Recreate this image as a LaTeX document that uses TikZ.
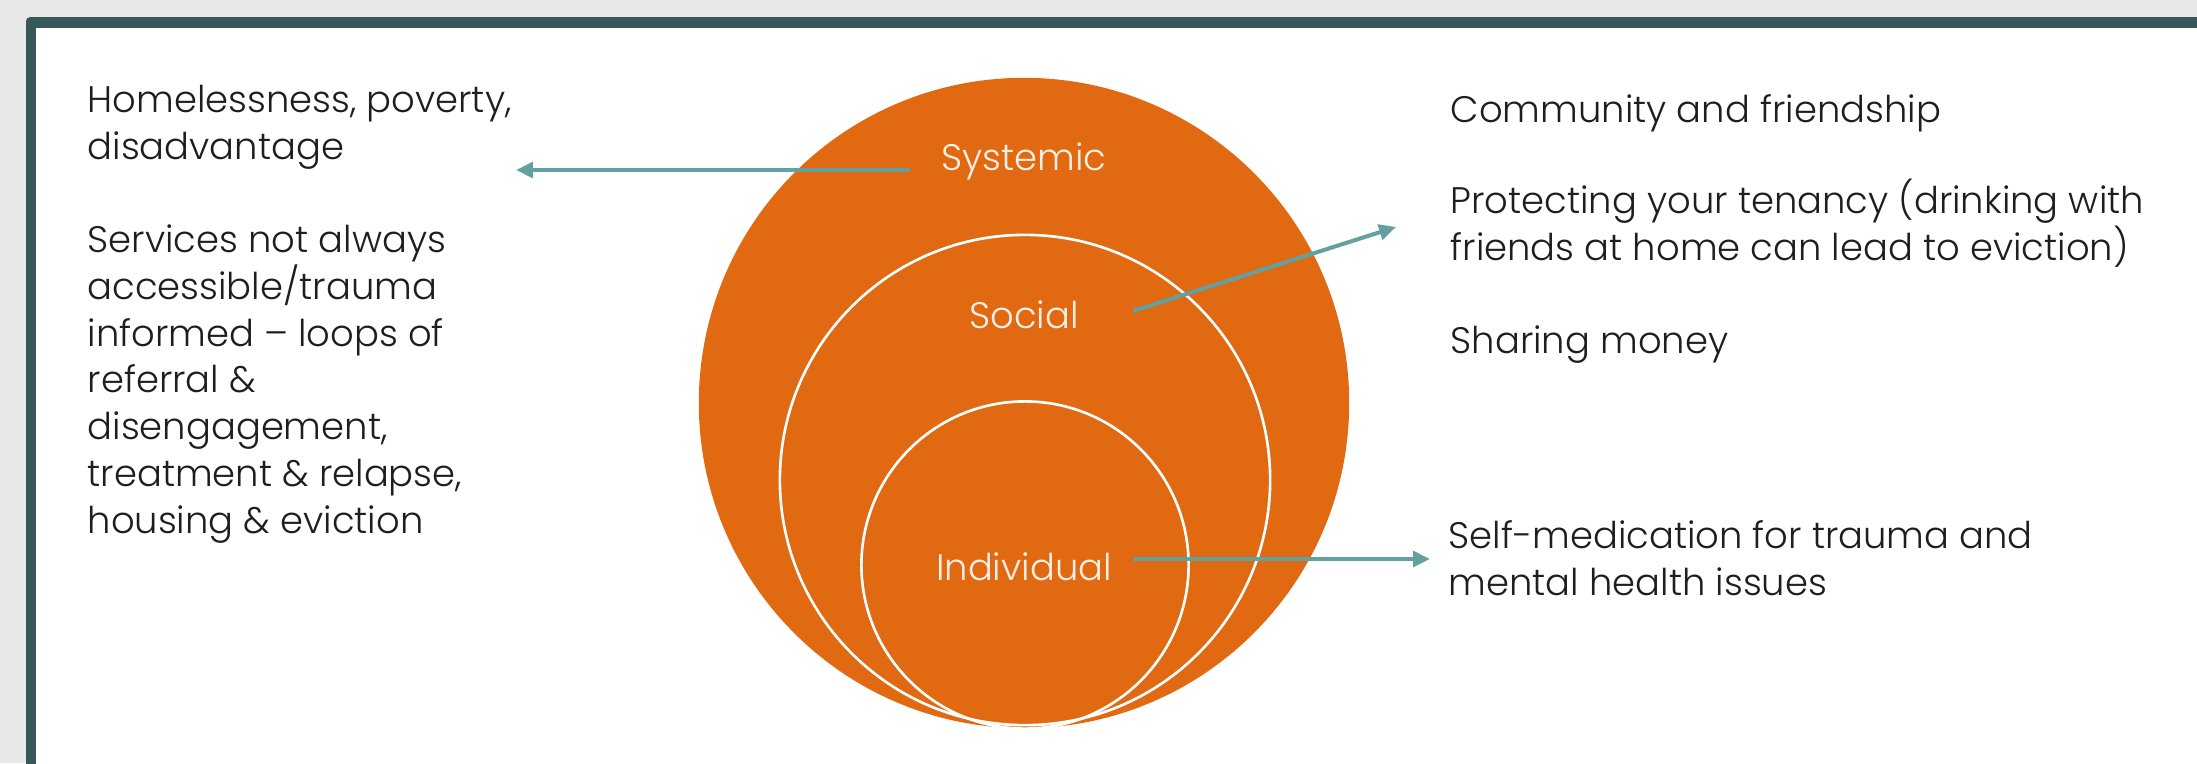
\documentclass[tikz,border=0pt]{standalone}
\usepackage{fontspec}
\setmainfont{Poppins}[UprightFont=* Light]
\usetikzlibrary{arrows.meta}
\definecolor{bggray}{HTML}{E8E8E8}
\definecolor{frameteal}{HTML}{36585A}
\definecolor{ringorange}{HTML}{E06912}
\definecolor{arrowteal}{HTML}{64A0A0}
\definecolor{bodytext}{HTML}{1E1E1E}
\definecolor{labeltext}{HTML}{FCEFE6}

\begin{document}
\begin{tikzpicture}[x=0.01cm,y=-0.01cm,
  body/.style={anchor=base west, inner sep=0pt, align=left, text=bodytext,
    font=\fontsize{10.5}{13.28}\selectfont},
  ringlabel/.style={anchor=base, inner sep=0pt, text=labeltext,
    font=\fontsize{10.5}{13.28}\selectfont},
  ring/.style={circle, inner sep=0pt, draw=white, line width=0.75pt},
  pointer/.style={draw=arrowteal, line width=1.15pt,
    -{Triangle[length=4.8pt,width=4.4pt]}}]
\useasboundingbox (0,0) rectangle (2197,763);

% page background and slide frame
\fill[bggray] (0,0) rectangle (2197,763);
\fill[frameteal, rounded corners=1.2pt] (26,17) rectangle (2260,820);
\fill[white] (36,28) rectangle (2260,820);

% nested circles
\node[circle, inner sep=0pt, fill=ringorange, minimum size=6.5cm] (outer) at (1024,403) {};
\node[ring, minimum size=4.9cm] (middle) at (1025,480) {};
\node[ring, minimum size=3.27cm] (inner) at (1025,565) {};

% circle labels
\node[ringlabel] (lsys) at (1024,170) {Systemic};
\node[ringlabel] (lsoc) at (1024,328) {Social};
\node[ringlabel] (lind) at (1024,580) {Individual};

% left column (multi-line blocks are placed by the baseline of their last line)
\node[body] (homeless) at (87,159) {Homelessness, poverty,\\disadvantage};
\node[body] (services) at (87,533) {Services not always\\accessible/trauma\\informed -- loops of\\referral \&\\disengagement,\\treatment \& relapse,\\housing \& eviction};

% right column
\node[body] (community) at (1450,122) {Community and friendship};
\node[body] (tenancy) at (1450,260) {Protecting your tenancy (drinking with\\friends at home can lead to eviction)};
\node[body] (money) at (1450,353) {Sharing money};
\node[body] (selfmed) at (1448,595) {Self-medication for trauma and\\mental health issues};

% connectors
\coordinate (sysFrom) at (910,170);
\coordinate (sysTo) at (516,170);
\coordinate (socFrom) at (1133,311);
\coordinate (socTo) at (1396,227);
\coordinate (indFrom) at (1133,559);
\coordinate (indTo) at (1430,559);
\draw[pointer] (sysFrom) -- (sysTo);
\draw[pointer] (socFrom) -- (socTo);
\draw[pointer] (indFrom) -- (indTo);
\end{tikzpicture}
\end{document}
